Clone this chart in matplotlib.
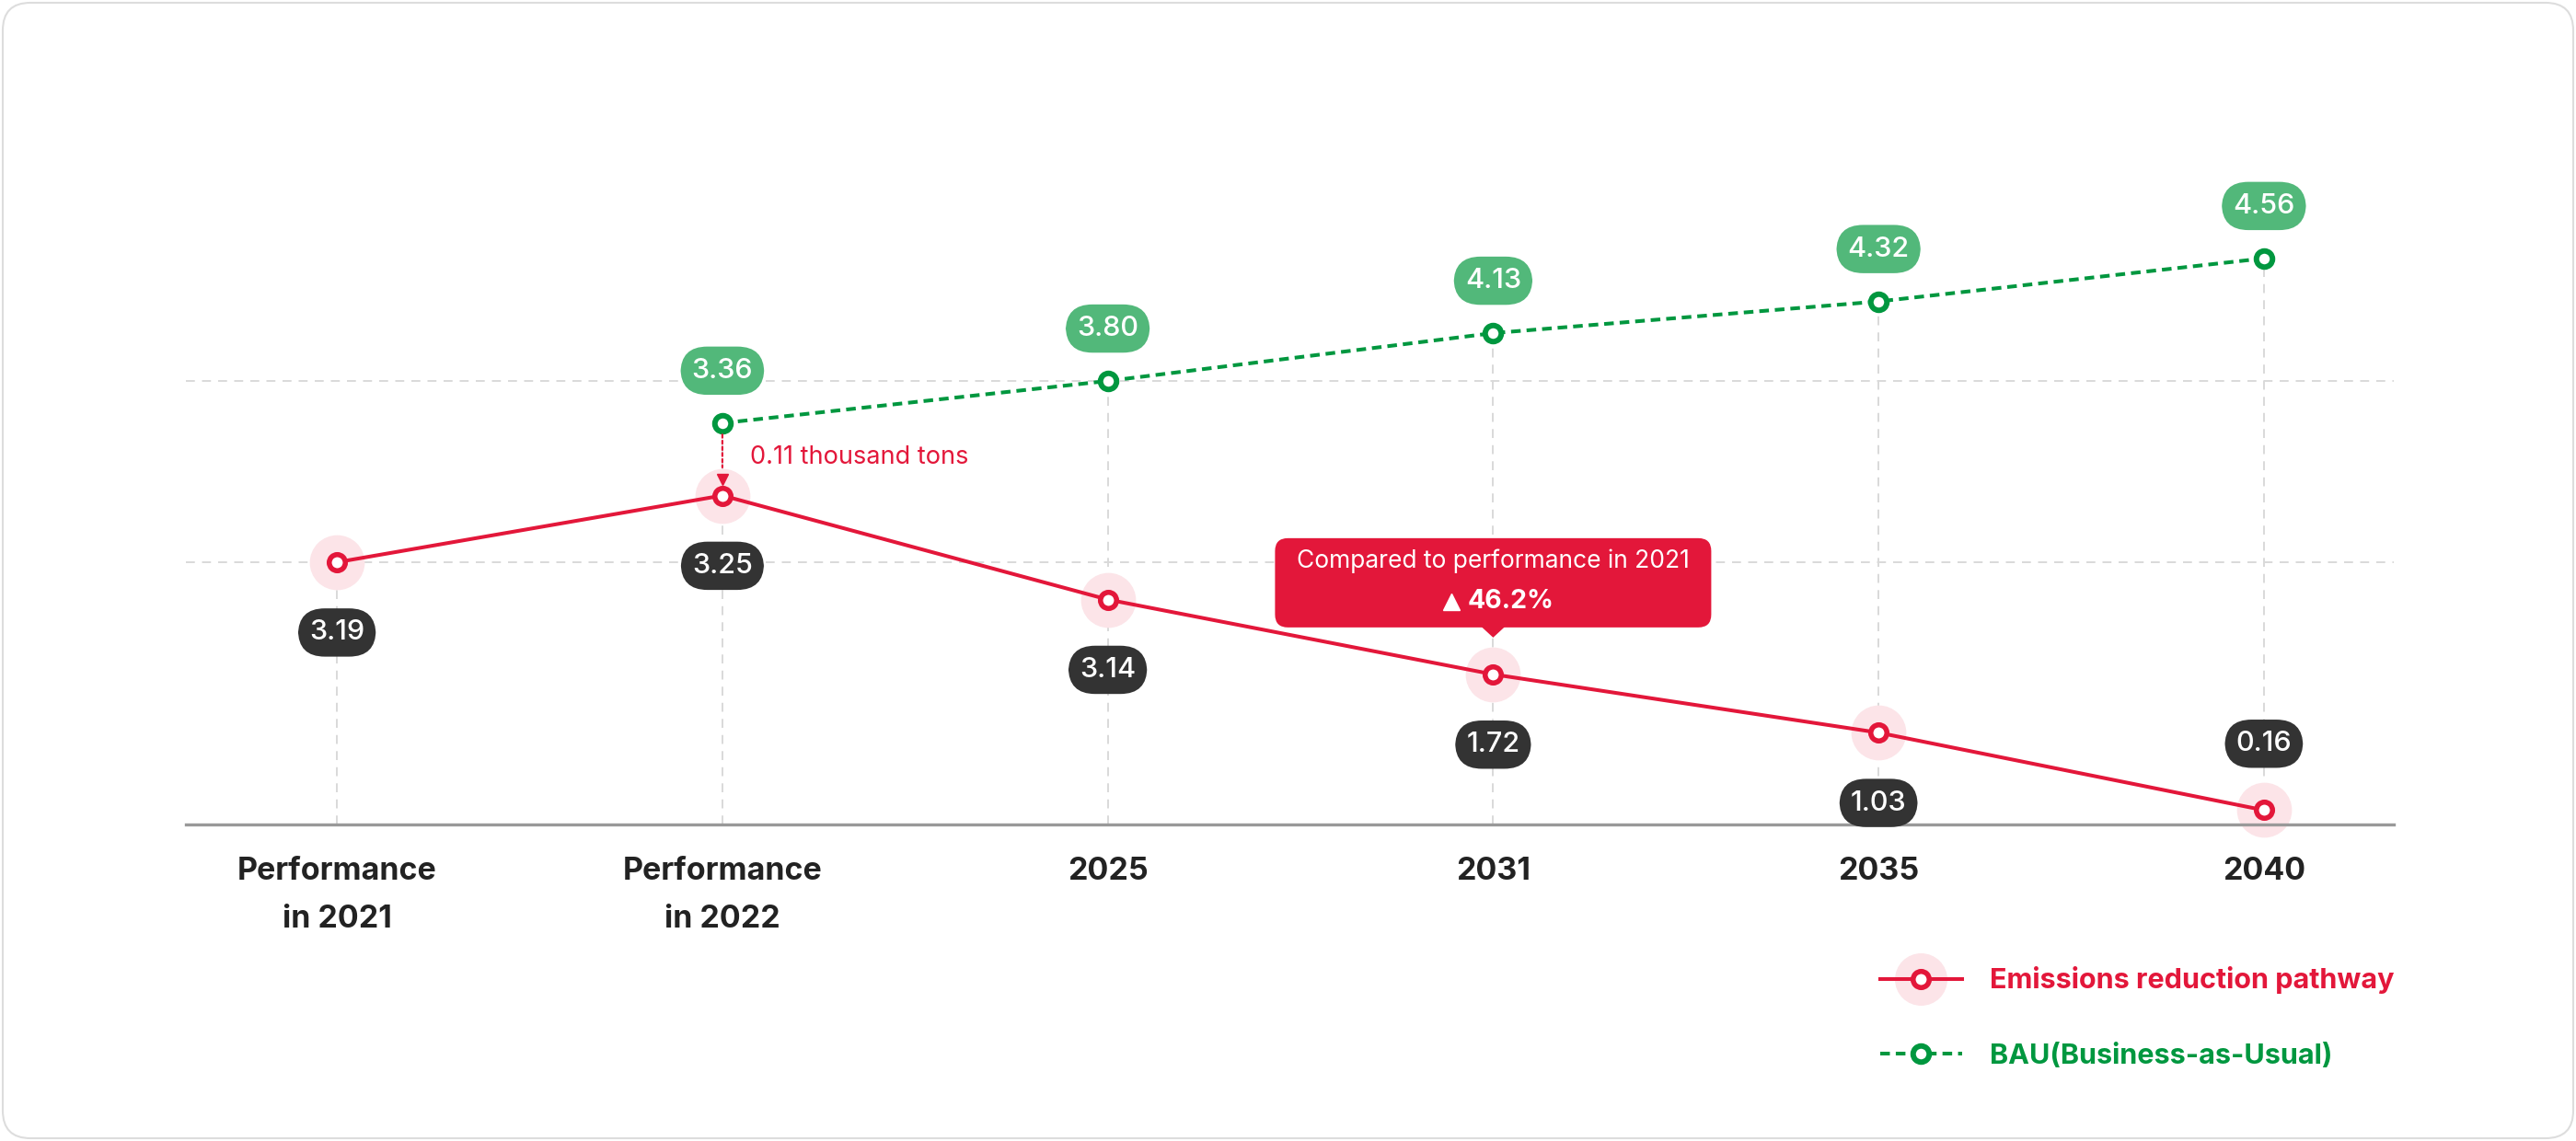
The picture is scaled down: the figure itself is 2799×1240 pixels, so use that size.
import numpy as np
import matplotlib
matplotlib.use("Agg")
import matplotlib.pyplot as plt
from matplotlib.lines import Line2D
from matplotlib.patches import FancyBboxPatch, Polygon
from matplotlib.legend_handler import HandlerTuple
from matplotlib.transforms import IdentityTransform, offset_copy

plt.rcParams["font.family"] = ["Inter", "DejaVu Sans"]

# data
categories = ["Performance\nin 2021", "Performance\nin 2022", "2025", "2031", "2035", "2040"]
pathway = [3.19, 3.25, 3.14, 1.72, 1.03, 0.16]
bau = [np.nan, 3.36, 3.80, 4.13, 4.32, 4.56]
reduction_2031_pct = 46.2
pathway_name = "Emissions reduction pathway"
bau_name = "BAU(Business-as-Usual)"

RED = "#E3173A"
HALO = "#FCE4E8"
GREEN = "#00973F"
GREEN_PILL = "#52B87A"
DARK = "#333333"
GRID = "#D9D9D9"

# the original chart is not drawn to scale: piecewise display scale
knot_val = [0, 1, 1.7, 3.15, 3.2, 3.3, 3.4, 3.8, 4.2, 4.6]
knot_pos = [0, 97, 162, 245, 295, 420, 447, 482, 545, 623]


def fwd(v):
    return np.interp(v, knot_val, knot_pos)


def inv(h):
    return np.interp(h, knot_pos, knot_val)


W, H = 2799, 1240
fig = plt.figure(figsize=(W / 100, H / 100), dpi=100)
ax = fig.add_axes([202 / W, (H - 896) / H, (2601 - 202) / W, 623 / H])
ax.set_yscale("function", functions=(fwd, inv))
ax.set_ylim(0, 4.6)
ax.set_xlim(-0.392, 5.337)

x = np.arange(len(categories))

# grid
for gy in [bau[2], pathway[0]]:
    ax.axhline(gy, color=GRID, lw=1.4, dashes=(5, 4), zorder=1)
tops = np.fmax(np.array(pathway), np.array(bau))
ax.vlines(x, 0, tops, color=GRID, lw=1.4, linestyles=(0, (5, 4)), zorder=1)

# series
ax.plot(x, pathway, "o", ms=42, color=HALO, zorder=2, clip_on=False)
ax.plot(x, pathway, "-o", color=RED, lw=2.9, ms=12.6, mew=4, mfc="white",
        mec=RED, zorder=4, clip_on=False)
ax.plot(x, bau, "o", color=GREEN, ls=(0, (2.6, 1.6)), lw=2.9, ms=12.6, mew=4.3,
        mfc="white", mec=GREEN, zorder=4, clip_on=False)

# value pills
pill = "round,pad=0.4,rounding_size=0.95"
for i, v in enumerate(pathway):
    dy = 52 if i == len(pathway) - 1 else -55
    ax.annotate(f"{v:.2f}", (i, v), xytext=(0, dy), textcoords="offset points",
                ha="center", va="center", fontsize=22, color="white", weight="medium",
                bbox=dict(boxstyle=pill, fc=DARK, ec="none"), zorder=6)
for i, v in enumerate(bau):
    if np.isnan(v):
        continue
    ax.annotate(f"{v:.2f}", (i, v), xytext=(0, 41), textcoords="offset points",
                ha="center", va="center", fontsize=22, color="white", weight="medium",
                bbox=dict(boxstyle=pill, fc=GREEN_PILL, ec="none"), zorder=6)

# gap between BAU and pathway in 2022
gap = bau[1] - pathway[1]
ax.annotate("", xy=(1, pathway[1]), xytext=(1, bau[1]),
            arrowprops=dict(arrowstyle="-", color=RED, lw=1.6, ls=(0, (1.5, 1.5)),
                            shrinkA=9, shrinkB=22), zorder=5)
tri = offset_copy(ax.transData, fig=fig, x=0, y=18, units="dots")
ax.plot([1], [pathway[1]], "v", ms=8, color=RED, transform=tri, zorder=5, clip_on=False)
ax.annotate(f"{gap:.2f} thousand tons", (1, bau[1]), xytext=(22, -27),
            textcoords="offset points", ha="left", va="center", fontsize=19.5, color=RED)

# callout above 2031
px, py = ax.transData.transform((3, pathway[3]))
box = FancyBboxPatch((px - 237, py + 51), 474, 97, boxstyle="round,pad=0,rounding_size=14",
                     fc=RED, ec="none", transform=IdentityTransform(), zorder=7)
fig.add_artist(box)
fig.add_artist(Polygon([[px - 13, py + 52], [px + 13, py + 52], [px, py + 40]], closed=True,
                       fc=RED, ec="none", transform=IdentityTransform(), zorder=7))
fig.text(px, py + 123, "Compared to performance in 2021", transform=IdentityTransform(),
         ha="center", va="center", fontsize=19, color="white", zorder=8)
fig.text(px - 28, py + 79, f"{reduction_2031_pct:.1f}%", transform=IdentityTransform(),
         ha="left", va="center", fontsize=20.5, weight="bold", color="white", zorder=8)
fig.add_artist(Line2D([px - 45], [py + 79], marker="^", ms=13, color="white", ls="none",
                      transform=IdentityTransform(), zorder=8))

# axes styling
for s in ["top", "right", "left"]:
    ax.spines[s].set_visible(False)
ax.spines["bottom"].set_color("#999999")
ax.spines["bottom"].set_linewidth(2.4)
ax.set_yticks([])
ax.set_xticks(x)
ax.set_xticklabels(categories, fontsize=24.5, weight="bold", color="#222222", linespacing=1.8)
ax.tick_params(axis="x", length=0, pad=25)

# legend
h_halo = Line2D([], [], marker="o", ms=40, color=HALO, ls="none")
h_red = Line2D([], [], marker="o", color=RED, lw=2.9, ms=12.6, mew=4, mfc="white", mec=RED)
h_green = Line2D([], [], marker="o", color=GREEN, lw=2.9, ls=(0, (2.6, 1.6)), ms=12.6,
                 mew=4.3, mfc="white", mec=GREEN)
fig.legend(handles=[(h_halo, h_red), h_green], labels=[pathway_name, bau_name],
           handler_map={tuple: HandlerTuple(ndivide=1)},
           loc="center left", bbox_to_anchor=(2043 / W, (H - 1106) / H),
           frameon=False, borderpad=0, borderaxespad=0,
           prop=dict(size=22, weight="bold"), labelcolor=[RED, GREEN],
           handlelength=2.9, handletextpad=1.0, labelspacing=1.75)

# card frame
fig.add_artist(FancyBboxPatch((3, 3), W - 6, H - 6, boxstyle="round,pad=0,rounding_size=30",
                              fill=False, ec="#DDDDDD", lw=1.5, transform=IdentityTransform()))

fig.savefig("out.png", dpi=100, facecolor="white")
